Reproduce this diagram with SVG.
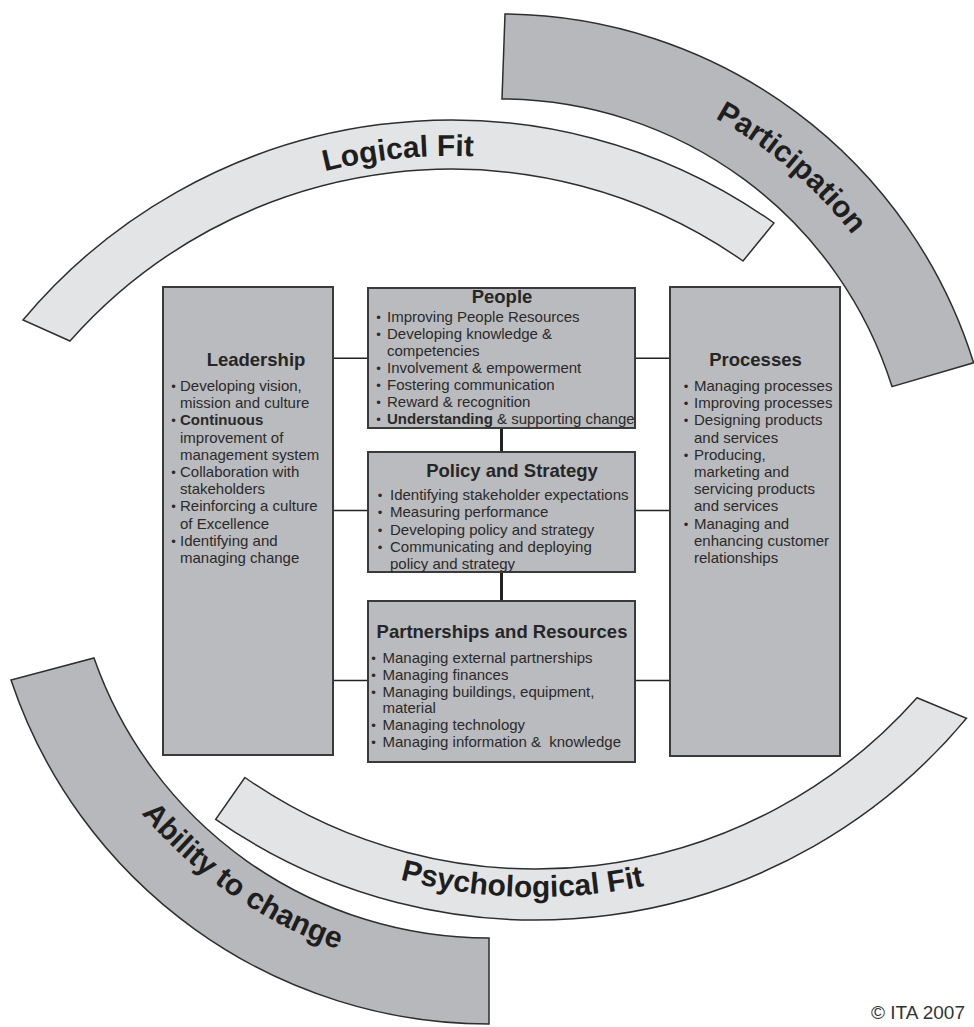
<svg xmlns="http://www.w3.org/2000/svg" width="974" height="1027" viewBox="0 0 974 1027">
<defs>
<style>
.band-l{fill:#e3e4e6;stroke:#2e2e2e;stroke-width:1.5}
.band-d{fill:#b7b8bb;stroke:#2e2e2e;stroke-width:1.5}
.lbl{font-family:"Liberation Sans",Arial,sans-serif;font-weight:bold;font-size:30px;fill:#1e1e1e}
.box{fill:#babbbe;stroke:#3a3a3a;stroke-width:2}
.t{font-family:"Liberation Sans",Arial,sans-serif;font-weight:bold;font-size:18.5px;fill:#262626;text-anchor:middle}
.b{font-family:"Liberation Sans",Arial,sans-serif;font-size:15px;fill:#2a2a2a}
.bb{font-weight:bold}
.d{font-family:"Liberation Sans",Arial,sans-serif;font-size:13px;fill:#2a2a2a;text-anchor:middle}
.c{stroke:#222;stroke-width:1.5;fill:none}
.cv{stroke:#222;stroke-width:3;fill:none}
.cr{font-family:"Liberation Sans",Arial,sans-serif;font-size:19px;fill:#333;text-anchor:end}
</style>
<path id="p-logical" d="M46.7,347.8 A522,522 0 0 1 781.3,273.7"/>
<path id="p-particip" d="M464.2,64.4 A447,447 0 0 1 945.6,474.2"/>
<path id="p-ability" d="M41.5,602.1 A455,455 0 0 0 571.1,967.5"/>
<path id="p-psych" d="M146.5,729.7 A537,537 0 0 0 905.7,749.5"/>
</defs>
<rect width="974" height="1027" fill="#ffffff"/>

<g id="logical-fit">
<path class="band-l" d="M23,320 A558,558 0 0 1 774,223 L743,261 A509,509 0 0 0 70,341 Z"/>
<text class="lbl" text-anchor="middle"><textPath href="#p-logical" startOffset="50%">Logical Fit</textPath></text>
</g>
<g id="participation">
<path class="band-d" d="M505,14 A496,496 0 0 1 973.6,362.8 L892,386.6 A411,411 0 0 0 502,99 Z"/>
<text class="lbl" text-anchor="middle"><textPath href="#p-particip" startOffset="50%">Participation</textPath></text>
</g>
<g id="ability-to-change">
<path class="band-d" d="M11,680 A504,504 0 0 0 489,1024 L489,938 A418,418 0 0 1 94,658 Z"/>
<text class="lbl" text-anchor="middle"><textPath href="#p-ability" startOffset="50%">Ability to change</textPath></text>
</g>
<g id="psychological-fit">
<path class="band-l" d="M215.7,819.3 A560,560 0 0 0 966.5,718.2 L917,697.7 A509,509 0 0 1 244.9,777.5 Z"/>
<text class="lbl" text-anchor="middle"><textPath href="#p-psych" startOffset="50%">Psychological Fit</textPath></text>
</g>

<g id="connectors">
<line class="c" x1="333" y1="358.3" x2="368" y2="358.3"/>
<line class="c" x1="635" y1="358.3" x2="670" y2="358.3"/>
<line class="c" x1="333" y1="510.5" x2="368" y2="510.5"/>
<line class="c" x1="635" y1="510.5" x2="670" y2="510.5"/>
<line class="c" x1="333" y1="680.5" x2="368" y2="680.5"/>
<line class="c" x1="635" y1="680.5" x2="670" y2="680.5"/>
<line class="cv" x1="501.5" y1="428" x2="501.5" y2="452"/>
<line class="cv" x1="501.5" y1="572" x2="501.5" y2="601"/>
</g>

<g id="leadership">
<rect class="box" x="163" y="287" width="170" height="468"/>
<text class="t" x="256" y="366">Leadership</text>
<text class="d" x="173.5" y="391">•</text><text class="b" x="180" y="391">Developing vision,</text>
<text class="b" x="180" y="408.2">mission and culture</text>
<text class="d" x="173.5" y="425.4">•</text><text class="b bb" x="180" y="425.4">Continuous</text>
<text class="b" x="180" y="442.6">improvement of</text>
<text class="b" x="180" y="459.8">management system</text>
<text class="d" x="173.5" y="477">•</text><text class="b" x="180" y="477">Collaboration with</text>
<text class="b" x="180" y="494.2">stakeholders</text>
<text class="d" x="173.5" y="511.4">•</text><text class="b" x="180" y="511.4">Reinforcing a culture</text>
<text class="b" x="180" y="528.6">of Excellence</text>
<text class="d" x="173.5" y="545.8">•</text><text class="b" x="180" y="545.8">Identifying and</text>
<text class="b" x="180" y="563">managing change</text>
</g>

<g id="people">
<rect class="box" x="368" y="288" width="267" height="140"/>
<text class="t" x="502" y="303">People</text>
<text class="d" x="378.5" y="322">•</text><text class="b" x="387" y="322">Improving People Resources</text>
<text class="d" x="378.5" y="339">•</text><text class="b" x="387" y="339">Developing knowledge &amp;</text>
<text class="b" x="387" y="356">competencies</text>
<text class="d" x="378.5" y="373">•</text><text class="b" x="387" y="373">Involvement &amp; empowerment</text>
<text class="d" x="378.5" y="390">•</text><text class="b" x="387" y="390">Fostering communication</text>
<text class="d" x="378.5" y="407">•</text><text class="b" x="387" y="407">Reward &amp; recognition</text>
<text class="d" x="378.5" y="424">•</text><text class="b" x="387" y="424"><tspan class="bb">Understanding</tspan> &amp; supporting change</text>
</g>

<g id="policy-and-strategy">
<rect class="box" x="368" y="452" width="267" height="120"/>
<text class="t" x="512" y="476.5">Policy and Strategy</text>
<text class="d" x="380" y="500">•</text><text class="b" x="390" y="500">Identifying stakeholder expectations</text>
<text class="d" x="380" y="517.3">•</text><text class="b" x="390" y="517.3">Measuring performance</text>
<text class="d" x="380" y="534.6">•</text><text class="b" x="390" y="534.6">Developing policy and strategy</text>
<text class="d" x="380" y="551.9">•</text><text class="b" x="390" y="551.9">Communicating and deploying</text>
<text class="b" x="390" y="569.2">policy and strategy</text>
</g>

<g id="partnerships-and-resources">
<rect class="box" x="368" y="601" width="267" height="161"/>
<text class="t" x="502" y="637.5">Partnerships and Resources</text>
<text class="d" x="373.5" y="663">•</text><text class="b" x="382.5" y="663">Managing external partnerships</text>
<text class="d" x="373.5" y="679.8">•</text><text class="b" x="382.5" y="679.8">Managing finances</text>
<text class="d" x="373.5" y="696.6">•</text><text class="b" x="382.5" y="696.6">Managing buildings, equipment,</text>
<text class="b" x="382.5" y="713.4">material</text>
<text class="d" x="373.5" y="730.2">•</text><text class="b" x="382.5" y="730.2">Managing technology</text>
<text class="d" x="373.5" y="747">•</text><text class="b" x="382.5" y="747">Managing information &amp;&#160; knowledge</text>
</g>

<g id="processes">
<rect class="box" x="670" y="287" width="170" height="469"/>
<text class="t" x="755.5" y="366">Processes</text>
<text class="d" x="686" y="391">•</text><text class="b" x="694" y="391">Managing processes</text>
<text class="d" x="686" y="408.2">•</text><text class="b" x="694" y="408.2">Improving processes</text>
<text class="d" x="686" y="425.4">•</text><text class="b" x="694" y="425.4">Designing products</text>
<text class="b" x="694" y="442.6">and services</text>
<text class="d" x="686" y="459.8">•</text><text class="b" x="694" y="459.8">Producing,</text>
<text class="b" x="694" y="477">marketing and</text>
<text class="b" x="694" y="494.2">servicing products</text>
<text class="b" x="694" y="511.4">and services</text>
<text class="d" x="686" y="528.6">•</text><text class="b" x="694" y="528.6">Managing and</text>
<text class="b" x="694" y="545.8">enhancing customer</text>
<text class="b" x="694" y="563">relationships</text>
</g>

<g id="copyright">
<text class="cr" x="965" y="1018.5">© ITA 2007</text>
</g>
</svg>
